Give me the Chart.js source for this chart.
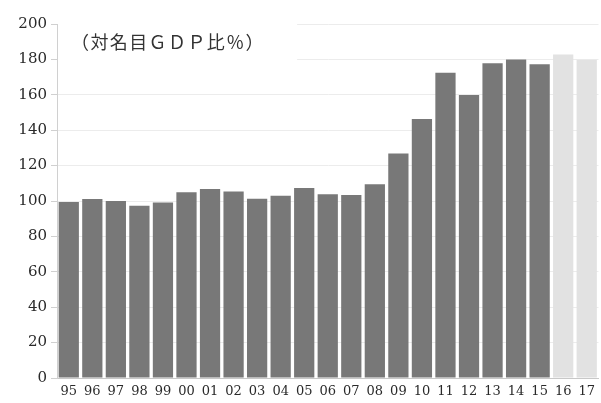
<!DOCTYPE html>
<html>
<head>
<meta charset="utf-8">
<script src="https://cdn.jsdelivr.net/npm/chart.js@4"></script>
<style>
  html, body { margin: 0; padding: 0; background: #fff; }
  #wrap { width: 601px; height: 403px; position: relative; }
</style>
</head>
<body>
<div id="wrap"><canvas id="c"></canvas></div>
<script>
// Fiscal years (two-digit labels)
const years = ['95','96','97','98','99','00','01','02','03','04','05','06','07','08','09','10','11','12','13','14','15','16','17'];
// Debt ratio, % of nominal GDP
const debtRatio = [99.4, 101.1, 100.0, 97.3, 99.2, 105.0, 106.8, 105.3, 101.3, 103.0, 107.3, 103.8, 103.4, 109.4, 126.9, 146.3, 172.5, 159.9, 177.8, 180.0, 177.2, 182.7, 179.8];
// Years 16 and 17 are projections
const projected = [false,false,false,false,false,false,false,false,false,false,false,false,false,false,false,false,false,false,false,false,false,true,true];
const yTicks = [0, 20, 40, 60, 80, 100, 120, 140, 160, 180, 200];
const unitNote = '（対名目ＧＤＰ比％）';

const barColors = projected.map(p => p ? '#e2e2e2' : '#787878');

// Clears the grid behind the unit note, then writes the note
const notePlugin = {
  id: 'note',
  beforeDatasetsDraw(chart) {
    const { ctx, scales: { x, y }, chartArea } = chart;
    const right = x.getPixelForValue(9) + (x.getPixelForValue(10) - x.getPixelForValue(9)) * 0.7;
    ctx.save();
    ctx.fillStyle = '#fff';
    ctx.fillRect(chartArea.left + 1, chartArea.top - 3, right - chartArea.left - 1, y.getPixelForValue(170) - chartArea.top + 3);
    ctx.restore();
  },
  afterDraw(chart) {
    const { ctx, chartArea } = chart;
    ctx.save();
    ctx.font = '18px "Noto Sans CJK JP"';
    ctx.letterSpacing = '1.4px';
    ctx.fillStyle = '#333';
    ctx.textBaseline = 'middle';
    ctx.fillText(unitNote, chartArea.left + 14, chartArea.top + 18);
    ctx.restore();
  }
};

new Chart(document.getElementById('c'), {
  type: 'bar',
  data: {
    labels: years,
    datasets: [{
      data: debtRatio,
      backgroundColor: barColors,
      borderWidth: 0,
      categoryPercentage: 1.0,
      barPercentage: 0.86
    }]
  },
  options: {
    responsive: true,
    maintainAspectRatio: false,
    animation: false,
    devicePixelRatio: 1,
    layout: { padding: { top: 24, right: 0, left: 0, bottom: 0 } },
    plugins: { legend: { display: false }, tooltip: { enabled: false } },
    scales: {
      x: {
        grid: { display: false, drawTicks: false },
        border: { display: true, color: '#c8c8c8', width: 1 },
        ticks: {
          color: '#2a2a2a',
          font: { family: 'DejaVu Serif', size: 13 },
          padding: 6,
          maxRotation: 0,
          autoSkip: false
        },
        afterFit(scale) { scale.height = 25; }
      },
      y: {
        min: 0,
        max: 200,
        afterBuildTicks(scale) { scale.ticks = yTicks.map(v => ({ value: v })); },
        grid: {
          color: '#ececec',
          tickColor: '#d0d0d0',
          tickLength: 6,
          drawTicks: true
        },
        border: { display: true, color: '#d0d0d0', width: 1 },
        ticks: {
          color: '#2a2a2a',
          font: { family: 'DejaVu Serif', size: 15 },
          padding: 4
        },
        afterFit(scale) { scale.width = 57; }
      }
    }
  },
  plugins: [notePlugin]
});
</script>
</body>
</html>
